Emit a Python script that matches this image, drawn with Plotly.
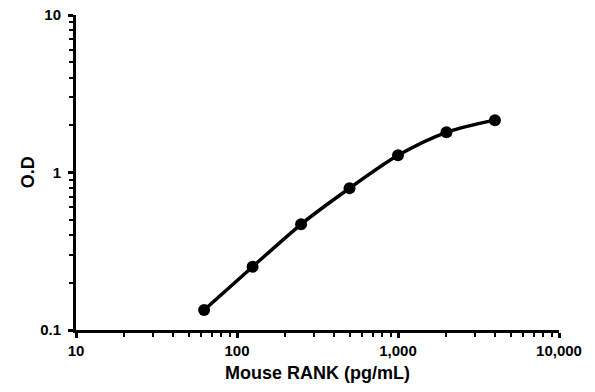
import plotly.graph_objects as go

# Data
concentration = [62.5, 125, 250, 500, 1000, 2000, 4000]  # pg/mL
od_values = [0.134, 0.252, 0.469, 0.794, 1.285, 1.80, 2.15]

x_tickvals = [10, 100, 1000, 10000]
x_ticktext = ["10", "100", "1,000", "10,000"]
y_tickvals = [0.1, 1, 10]
y_ticktext = ["0.1", "1", "10"]

x_title = "Mouse RANK (pg/mL)"
y_title = "O.D"

x_minor = [m * d for d in (10, 100, 1000) for m in range(2, 10)]
y_minor = [m * d for d in (0.1, 1) for m in range(2, 10)]

FONT = "Liberation Sans, Arial, sans-serif"

fig = go.Figure()
fig.add_trace(go.Scatter(
    x=concentration, y=od_values,
    mode="lines+markers",
    line=dict(color="black", width=3.5, shape="spline", smoothing=0.8),
    marker=dict(color="black", size=12, symbol="circle"),
    showlegend=False,
))

axis_common = dict(
    type="log",
    automargin=False,
    showline=True, linecolor="black", linewidth=3,
    showgrid=False, zeroline=False,
    ticks="outside", ticklen=5, tickwidth=3, tickcolor="black",
    tickmode="array",
    tickfont=dict(family=FONT, size=15, color="black"),
)

fig.update_xaxes(
    **axis_common,
    range=[1, 4],
    tickvals=x_tickvals, ticktext=["<b>%s</b>" % t for t in x_ticktext],
    minor=dict(tickvals=x_minor, ticks="outside", ticklen=4, tickwidth=2, tickcolor="black", showgrid=False),
)
fig.update_yaxes(
    **axis_common,
    range=[-1, 1],
    ticklabelstandoff=4,
    tickvals=y_tickvals, ticktext=["<b>%s</b>" % t for t in y_ticktext],
    minor=dict(tickvals=y_minor, ticks="outside", ticklen=4, tickwidth=2, tickcolor="black", showgrid=False),
)

fig.update_layout(
    width=595, height=392,
    margin=dict(l=76, r=36, t=15, b=62),
    plot_bgcolor="white", paper_bgcolor="white",
    annotations=[
        dict(text="<b>%s</b>" % x_title, xref="paper", yref="paper",
             x=0.5, y=-0.137, xanchor="center", yanchor="middle", showarrow=False,
             font=dict(family=FONT, size=18, color="black")),
        dict(text="<b>%s</b>" % y_title, xref="paper", yref="paper",
             x=-0.1, y=0.5, xanchor="center", yanchor="middle", showarrow=False, textangle=-90,
             font=dict(family=FONT, size=18, color="black")),
    ],
)

fig.write_html("out.html", config={"displayModeBar": False},
               post_script="document.body.style.margin='0';document.body.style.overflow='hidden';")
